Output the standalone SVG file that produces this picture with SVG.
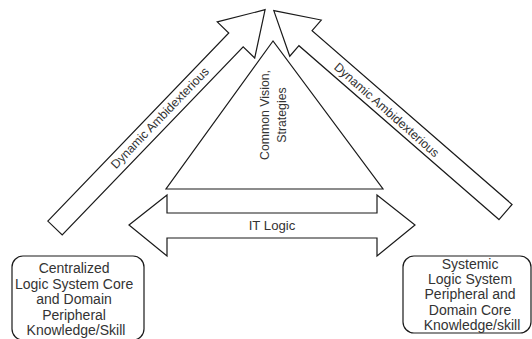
<svg xmlns="http://www.w3.org/2000/svg" width="532" height="339" viewBox="0 0 532 339">
  <style>
    .shape { fill: #ffffff; stroke: #1a1a1a; stroke-width: 1.2; stroke-linejoin: miter; }
    .label { font-family: "Liberation Sans", Arial, sans-serif; fill: #333333; text-anchor: middle; }
    .box { font-size: 14px; }
    .small { font-size: 12.3px; }
  </style>
  <rect width="532" height="339" fill="#ffffff"/>

  <!-- Diagonal block arrows -->
  <g id="connectors">
    <g id="arrow-left">
      <polygon class="shape" transform="translate(55,228) rotate(-46.1)"
               points="0,-10 261,-10 261,-26 303,0 261,26 261,10 0,10"/>
      <text class="label small" transform="translate(160,118) rotate(-46.1)" y="4">Dynamic Ambidexterious</text>
    </g>
    <g id="arrow-right">
      <polygon class="shape" transform="translate(505.5,212) rotate(-139)"
               points="0,-10 265,-10 265,-24 307,0 265,24 265,10 0,10"/>
      <text class="label small" transform="translate(386.5,110) rotate(41.5)" y="4">Dynamic Ambidexterious</text>
    </g>
  </g>

  <!-- Central triangle -->
  <g id="triangle">
    <polygon class="shape" points="273,41 166,189 383,189"/>
    <text class="label small" transform="translate(265,115) rotate(-90)" y="4">Common Vision,</text>
    <text class="label small" transform="translate(282,115) rotate(-90)" y="4">Strategies</text>
  </g>

  <!-- Horizontal double arrow -->
  <g id="it-logic">
    <polygon class="shape" points="129,225 167,195 167,213 377,213 377,195 415,225 377,256 377,238 167,238 167,256"/>
    <text class="label" x="272" y="230" font-size="13.2">IT Logic</text>
  </g>

  <!-- Left rounded box -->
  <g id="box-centralized">
    <rect class="shape" x="12" y="256" width="132" height="84" rx="11" ry="11"/>
    <text class="label box" x="76">
      <tspan x="76" y="273">Centralized</tspan>
      <tspan x="76" y="288.5">Logic System Core</tspan>
      <tspan x="76" y="304">and Domain</tspan>
      <tspan x="76" y="319.5">Peripheral</tspan>
      <tspan x="76" y="335">Knowledge/Skill</tspan>
    </text>
  </g>

  <!-- Right rounded box -->
  <g id="box-systemic">
    <rect class="shape" x="403" y="256" width="128" height="77" rx="11" ry="11"/>
    <text class="label box" x="472">
      <tspan x="472" y="269">Systemic</tspan>
      <tspan x="472" y="284.2">Logic System</tspan>
      <tspan x="472" y="299.4">Peripheral and</tspan>
      <tspan x="472" y="314.6">Domain Core</tspan>
      <tspan x="472" y="329.8">Knowledge/skill</tspan>
    </text>
  </g>
</svg>
